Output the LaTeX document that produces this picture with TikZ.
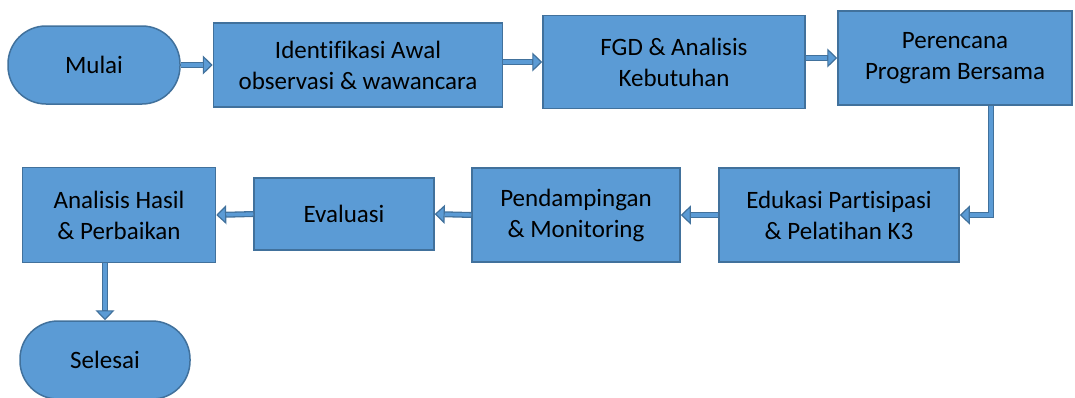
\documentclass[tikz,border=0pt]{standalone}
\usepackage{fontspec}
\setmainfont{Carlito}[Ligatures={NoCommon}]
\usetikzlibrary{arrows.meta}
\definecolor{boxfill}{HTML}{5B9BD5}
\definecolor{boxedge}{HTML}{41719C}
\begin{document}
\begin{tikzpicture}[x=1pt,y=-1pt,
  box/.style={draw=boxedge, fill=boxfill, line width=1.5pt, align=center,
    font=\fontsize{25}{31}\selectfont, inner sep=0pt, text=black},
  term/.style={box, rounded corners=38pt},
  flow/.style={line width=6pt, draw=boxedge,
    -{Triangle[length=10pt,width=19pt,line width=1.2pt,fill=boxfill]},
    postaction={draw=boxfill, line width=3.4pt, shorten >=10pt, -}}]
\useasboundingbox (0,0) rectangle (1075,397);
\node[term, minimum width=172pt, minimum height=78pt] (mulai) at (94,65) {Mulai};
\node[box, minimum width=289pt, minimum height=84pt] (ident) at (358,65) {Identifikasi Awal\\observasi \& wawancara};
\node[box, minimum width=262pt, minimum height=93pt] (fgd) at (674,62) {FGD \& Analisis\\Kebutuhan};
\node[box, minimum width=234pt, minimum height=94pt] (per) at (955,58) {Perencana\\Program Bersama};
\node[box, minimum width=240pt, minimum height=94pt] (edu) at (839,215) {Edukasi Partisipasi\\\& Pelatihan K3};
\node[box, minimum width=208pt, minimum height=94pt] (pend) at (576,215) {Pendampingan\\\& Monitoring};
\node[box, minimum width=180pt, minimum height=72pt] (eval) at (344,214) {Evaluasi};
\node[box, minimum width=193pt, minimum height=95pt] (anal) at (119,215) {Analisis Hasil\\\& Perbaikan};
\node[term, minimum width=170pt, minimum height=78pt] (sel) at (105,360) {Selesai};
\draw[flow] (mulai.east) -- (ident.west);
\draw[flow] (ident.east |- fgd.west) -- (fgd.west);
\draw[flow] (fgd.east |- per.west) -- (per.west);
\draw[flow] ([xshift=36pt]per.south) |- (edu.east);
\draw[flow] (edu.west) -- (pend.east);
\draw[flow] (pend.west) -- (eval.east);
\draw[flow] (eval.west) -- (anal.east);
\draw[flow] (sel.north |- anal.south) -- (sel.north);
\end{tikzpicture}
\end{document}
